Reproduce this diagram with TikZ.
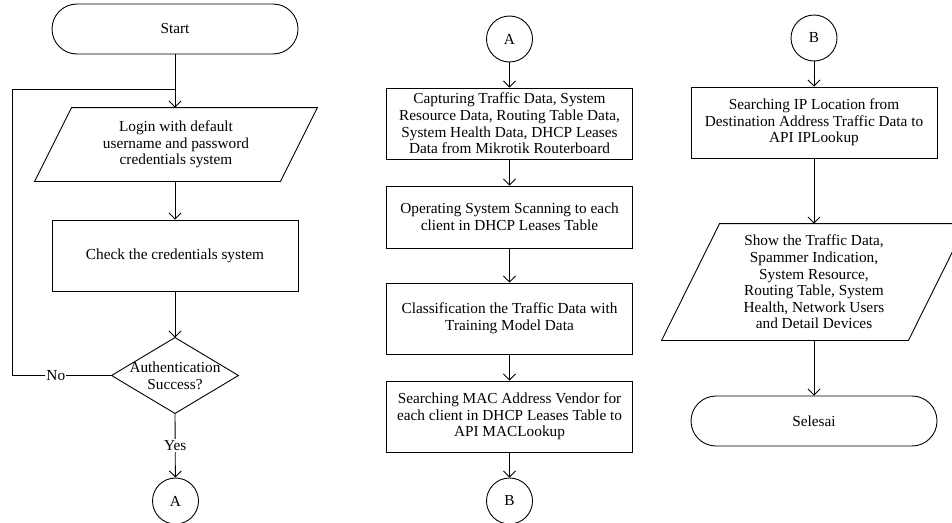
\documentclass[tikz,border=0pt]{standalone}
\usepackage{fontspec}
\setmainfont{Liberation Serif}
\usetikzlibrary{arrows.meta}
\begin{document}
\begin{tikzpicture}[x=1pt,y=-1pt,
  font=\fontsize{15.3}{16.6}\selectfont,
  line width=0.9pt,
  arr/.style={-{Straight Barb[length=6pt,width=12pt]}},
  proc/.style={draw, minimum width=246pt, minimum height=71pt, align=center, inner sep=0pt},
  term/.style={draw, rounded corners=25pt, minimum width=246pt, minimum height=50pt, inner sep=0pt},
  conn/.style={draw, circle, minimum size=46pt, inner sep=0pt},
  ghost/.style={inner sep=0pt, align=center},
  lab/.style={fill=white, inner sep=1pt}]
\useasboundingbox (0,0) rectangle (952,522);
\clip (0,0) rectangle (952,522);

% column 1
\node[term] (start) at (175,29) {Start};
\node[ghost, minimum width=282pt, minimum height=73pt] (login) at (176,144.5)
  {Login with default\\username and password\\credentials system};
\draw ([xshift=37pt]login.north west) -- (login.north east)
  -- ([xshift=-37pt]login.south east) -- (login.south west) -- cycle;
\node[proc] (check) at (175,255.5) {Check the credentials system};
\node[ghost, minimum width=126pt, minimum height=75pt] (dia) at (175,375.5)
  {Authentication\\Success?};
\draw (dia.north) -- (dia.east) -- (dia.south) -- (dia.west) -- cycle;
\node[conn] (A1) at (175.5,501) {A};

\coordinate (lb) at (12,375.5);
\coordinate (lt) at (12,89);
\coordinate (j) at (175,89);

\draw[arr] (start.south) -- (start.south |- login.north);
\draw[arr] (login.south -| check.north) -- (check.north);
\draw[arr] (check.south) -- (dia.north);
\draw[arr] (dia.south) -- node[lab]{Yes} (A1);
\draw (dia.west) -- node[lab, pos=0.56]{No} (lb) -- (lt) -- (j);

% column 2
\node[conn] (A2) at (509.5,39) {A};
\node[proc] (c1) at (509.5,123.5)
  {Capturing Traffic Data, System\\Resource Data, Routing Table Data,\\System Health Data, DHCP Leases\\Data from Mikrotik Routerboard};
\node[proc, minimum height=62pt] (c2) at (509.5,217)
  {Operating System Scanning to each\\client in DHCP Leases Table};
\node[proc] (c3) at (509.5,318.5)
  {Classification the Traffic Data with\\Training Model Data};
\node[proc] (c4) at (509.5,416.5)
  {Searching MAC Address Vendor for\\each client in DHCP Leases Table to\\API MACLookup};
\node[conn] (B1) at (509.5,501) {B};
\draw[arr] (A2) -- (c1);
\draw[arr] (c1) -- (c2);
\draw[arr] (c2) -- (c3);
\draw[arr] (c3) -- (c4);
\draw[arr] (c4) -- (B1);

% column 3
\node[conn] (B2) at (814,38) {B};
\node[proc] (d1) at (814,122.5)
  {Searching IP Location from\\Destination Address Traffic Data to\\API IPLookup};
\node[ghost, minimum width=304pt, minimum height=116pt] (d2) at (814,282)
  {Show the Traffic Data,\\Spammer Indication,\\System Resource,\\Routing Table, System\\Health, Network Users\\and Detail Devices};
\draw ([xshift=58pt]d2.north west) -- (d2.north east)
  -- ([xshift=-58pt]d2.south east) -- (d2.south west) -- cycle;
\node[term] (end) at (814,421) {Selesai};
\draw[arr] (B2) -- (d1);
\draw[arr] (d1) -- (d2);
\draw[arr] (d2) -- (end);
\end{tikzpicture}
\end{document}
